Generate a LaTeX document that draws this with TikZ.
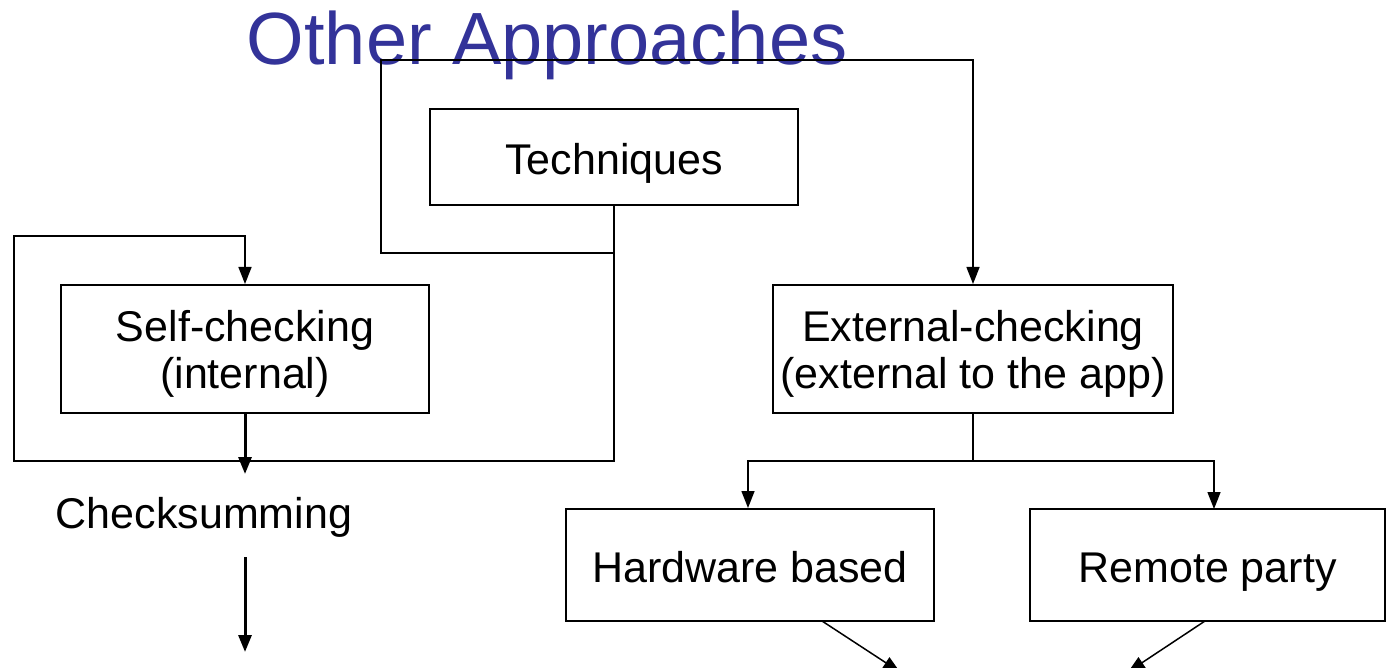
\documentclass[tikz,border=0pt]{standalone}
\usepackage{fontspec}
\setmainfont{Liberation Sans}
\usetikzlibrary{arrows.meta}
\definecolor{titleblue}{RGB}{51,51,153}
\newcommand\firststrut{\rule{0pt}{20.7pt}}
\begin{document}
\begin{tikzpicture}[x=0.5pt,y=-0.5pt,
  box/.style={draw,line width=1pt,inner sep=0pt,align=center,font=\fontsize{21.5}{23.5}\selectfont},
  onebox/.style={box,text height=17.5pt,text depth=0pt},
  conn/.style={line width=0.75pt},
  arr/.style={conn,-{Triangle[length=8.5pt,width=6.5pt]}},
  thickarr/.style={line width=1.5pt,-{Triangle[length=8.5pt,width=6.5pt]}}]
\path[use as bounding box] (0,0) rectangle (1386,668);
\clip (0,0) rectangle (1386,668);
% title
\node[font=\fontsize{37}{40}\selectfont,text=titleblue,anchor=base,inner sep=0pt] (title) at (547,65) {Other Approaches};
% boxes
\node[onebox,minimum width=184pt,minimum height=48pt] (tech) at (614,157) {Techniques};
\node[box,minimum width=184pt,minimum height=64pt] (self) at (245,349) {\firststrut Self-checking\\(internal)};
\node[box,minimum width=200pt,minimum height=64pt] (ext) at (973,349) {\firststrut External-checking\\(external to the app)};
\node[onebox,minimum width=184pt,minimum height=56pt] (hw) at (750,565) {Hardware based};
\node[onebox,minimum width=177.5pt,minimum height=56pt] (rp) at (1207.5,565) {Remote party};
\node[font=\fontsize{21.5}{23.5}\selectfont,anchor=base,inner sep=0pt] (cs) at (204,528) {Checksumming};
% junction coordinates
\coordinate (j1) at (614,253);
\coordinate (tl) at (381,60);
\coordinate (j2) at (614,461);
\coordinate (ll) at (14,236);
\coordinate (selfout) at (245,474);
\coordinate (csout) at (245,557);
\coordinate (csend) at (245,652);
\coordinate (j3) at (973,461);
\coordinate (hwin) at (748,461);
\coordinate (rpin) at (1214,509);
\coordinate (hwout) at (822,621);
\coordinate (rpout) at (1205,621);
\coordinate (hwend) at (900,672);
\coordinate (rpend) at (1128,672);
% connectors
\draw[conn] (tech.south) -- (j1);
\draw[arr] (j1) -| (tl) -| (ext.north);
\draw[arr] (j1) -- (j2) -| (ll) -| (self.north);
\draw[thickarr] (self.south) -- (selfout);
\draw[thickarr] (csout) -- (csend);
\draw[conn] (ext.south) -- (j3);
\draw[arr] (j3) -- (hwin) -- (hwin |- hw.north);
\draw[arr] (j3) -| (rpin);
\draw[arr] (hwout) -- (hwend);
\draw[arr] (rpout) -- (rpend);
\end{tikzpicture}
\end{document}
